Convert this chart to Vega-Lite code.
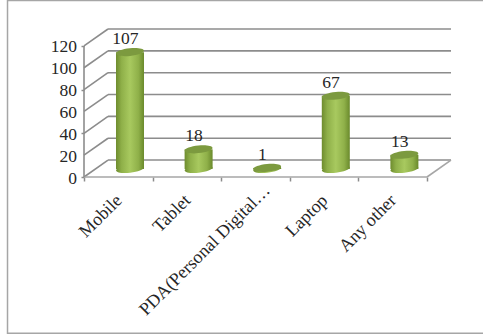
{
  "$schema": "https://vega.github.io/schema/vega-lite/v6.json",
  "autosize": "none",
  "width": 367,
  "height": 148,
  "padding": {"left": 84, "top": 29, "right": 32, "bottom": 157},
  "background": "white",
  "config": {"view": {"stroke": null}, "font": "Liberation Serif"},
  "datasets": {
    "devices": [
      {"category": "Mobile", "pos": 0.5, "value": 107},
      {"category": "Tablet", "pos": 1.5, "value": 18},
      {"category": "PDA(Personal Digital…", "pos": 2.5, "value": 1},
      {"category": "Laptop", "pos": 3.5, "value": 67},
      {"category": "Any other", "pos": 4.5, "value": 13}
    ],
    "levels": [
      {"v": 0, "vBack": 15.5},
      {"v": 20, "vBack": 35.5},
      {"v": 40, "vBack": 55.5},
      {"v": 60, "vBack": 75.5},
      {"v": 80, "vBack": 95.5},
      {"v": 100, "vBack": 115.5},
      {"v": 120, "vBack": 135.5}
    ]
  },
  "layer": [
    {
      "description": "Outer chart frame",
      "data": {"values": [{"left": -1.115, "right": 7, "bottom": -143, "top": 161.5}]},
      "mark": {"type": "rect", "fill": null, "stroke": "#a6a6a6", "strokeWidth": 1.5, "clip": false},
      "encoding": {
        "x": {"field": "left", "type": "quantitative", "scale": {"domain": [0, 5.35], "nice": false, "zero": false, "padding": 0},
          "axis": {"values": [0, 1, 2, 3, 4, 5], "labels": false, "title": null, "grid": false, "domain": false, "ticks": true, "tickSize": 4, "tickColor": "#8c8c8c", "tickWidth": 1.5}},
        "x2": {"field": "right"},
        "y": {"field": "bottom", "type": "quantitative", "scale": {"domain": [0, 135.5], "nice": false, "zero": false, "padding": 0},
          "axis": {"values": [0, 20, 40, 60, 80, 100, 120], "labels": false, "title": null, "grid": false, "domain": false, "tickSize": 3, "tickColor": "#8c8c8c", "tickWidth": 1.5}},
        "y2": {"field": "top"}
      }
    },
    {
      "description": "Back wall gridlines",
      "data": {"name": "levels"},
      "mark": {"type": "rule", "stroke": "#8c8c8c", "strokeWidth": 1.6},
      "encoding": {
        "x": {"datum": 0.35, "type": "quantitative"},
        "x2": {"datum": 5.35},
        "y": {"field": "vBack", "type": "quantitative"}
      }
    },
    {
      "description": "Side wall diagonals",
      "data": {"name": "levels"},
      "mark": {"type": "rule", "stroke": "#8c8c8c", "strokeWidth": 1.6},
      "encoding": {
        "x": {"datum": 0, "type": "quantitative"},
        "x2": {"datum": 0.35},
        "y": {"field": "v", "type": "quantitative"},
        "y2": {"field": "vBack"}
      }
    },
    {
      "description": "Floor edge on the right",
      "data": {"values": [{"v": 0, "vBack": 15.5}]},
      "mark": {"type": "rule", "stroke": "#a6a6a6", "strokeWidth": 1.6},
      "encoding": {
        "x": {"datum": 5, "type": "quantitative"},
        "x2": {"datum": 5.35},
        "y": {"field": "v", "type": "quantitative"},
        "y2": {"field": "vBack"}
      }
    },
    {
      "description": "Front floor edge",
      "data": {"values": [{"v": 0}]},
      "mark": {"type": "rule", "stroke": "#a6a6a6", "strokeWidth": 1.6},
      "encoding": {
        "x": {"datum": 0, "type": "quantitative"},
        "x2": {"datum": 5},
        "y": {"field": "v", "type": "quantitative"}
      }
    },
    {
      "description": "Value axis line",
      "data": {"values": [{"from": 0, "to": 120}]},
      "mark": {"type": "rule", "stroke": "#8c8c8c", "strokeWidth": 1.6},
      "encoding": {
        "x": {"datum": 0, "type": "quantitative"},
        "y": {"field": "from", "type": "quantitative"},
        "y2": {"field": "to"}
      }
    },
    {
      "description": "Value axis labels, one per level",
      "data": {"name": "levels"},
      "mark": {"type": "text", "font": "Liberation Serif", "fontSize": 17.5, "color": "#262626", "align": "right", "baseline": "middle", "xOffset": -7, "yOffset": 1.5},
      "encoding": {
        "x": {"datum": 0, "type": "quantitative"},
        "y": {"field": "v", "type": "quantitative"},
        "text": {"field": "v", "type": "quantitative"}
      }
    },
    {
      "description": "Cylinder base",
      "data": {"name": "devices"},
      "mark": {
        "type": "point", "filled": true, "opacity": 1, "size": 784, "xOffset": 11.7, "yOffset": -8,
        "shape": "M-0.995,0.1 A1,0.27 -6 1 1 0.995,-0.1 A1,0.27 -6 1 1 -0.995,0.1 Z",
        "fill": {"x1": 0, "x2": 1, "y1": 0, "y2": 0, "gradient": "linear", "stops": [
          {"offset": 0, "color": "#6e8c2e"}, {"offset": 0.2, "color": "#8fb049"}, {"offset": 0.5, "color": "#a8c95f"}, {"offset": 0.8, "color": "#8fb049"}, {"offset": 1, "color": "#6a8a2c"}]}
      },
      "encoding": {
        "x": {"field": "pos", "type": "quantitative"},
        "y": {"datum": 0, "type": "quantitative"}
      }
    },
    {
      "description": "Cylinder body",
      "data": {"name": "devices"},
      "mark": {
        "type": "bar", "width": 28, "xOffset": 11.7, "yOffset": -8, "y2Offset": -8,
        "fill": {"x1": 0, "x2": 1, "y1": 0, "y2": 0, "gradient": "linear", "stops": [
          {"offset": 0, "color": "#6e8c2e"}, {"offset": 0.2, "color": "#8fb049"}, {"offset": 0.5, "color": "#a8c95f"}, {"offset": 0.8, "color": "#8fb049"}, {"offset": 1, "color": "#6a8a2c"}]}
      },
      "encoding": {
        "x": {"field": "pos", "type": "quantitative"},
        "y": {"field": "value", "type": "quantitative"},
        "y2": {"datum": 0}
      }
    },
    {
      "description": "Cylinder top",
      "data": {"name": "devices"},
      "mark": {
        "type": "point", "filled": true, "opacity": 1, "size": 784, "xOffset": 11.7, "yOffset": -8,
        "shape": "M-0.995,0.1 A1,0.27 -6 1 1 0.995,-0.1 A1,0.27 -6 1 1 -0.995,0.1 Z",
        "fill": "#7c9a3f"
      },
      "encoding": {
        "x": {"field": "pos", "type": "quantitative"},
        "y": {"field": "value", "type": "quantitative"}
      }
    },
    {
      "description": "Value labels",
      "data": {"name": "devices"},
      "mark": {"type": "text", "font": "Liberation Serif", "fontSize": 17.5, "color": "#262626", "xOffset": 7, "yOffset": -21},
      "encoding": {
        "x": {"field": "pos", "type": "quantitative"},
        "y": {"field": "value", "type": "quantitative"},
        "text": {"field": "value", "type": "quantitative"}
      }
    },
    {
      "description": "Category labels",
      "data": {"name": "devices"},
      "transform": [{"filter": "datum.pos !== 2.5"}],
      "mark": {"type": "text", "font": "Liberation Serif", "fontSize": 18, "color": "#262626", "angle": 315, "align": "right", "baseline": "middle", "xOffset": 1, "yOffset": 21},
      "encoding": {
        "x": {"field": "pos", "type": "quantitative"},
        "y": {"datum": 0, "type": "quantitative"},
        "text": {"field": "category", "type": "nominal"}
      }
    },
    {
      "description": "Truncated long category label, set a little further along the axis",
      "data": {"name": "devices"},
      "transform": [{"filter": "datum.pos === 2.5"}],
      "mark": {"type": "text", "font": "Liberation Serif", "fontSize": 18, "color": "#262626", "angle": 315, "align": "right", "baseline": "middle", "xOffset": 12, "yOffset": 11},
      "encoding": {
        "x": {"field": "pos", "type": "quantitative"},
        "y": {"datum": 0, "type": "quantitative"},
        "text": {"field": "category", "type": "nominal"}
      }
    }
  ]
}
